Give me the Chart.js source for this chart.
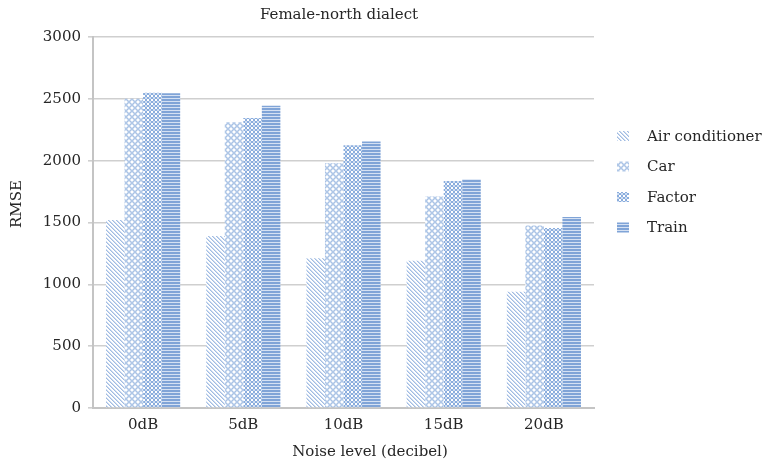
<!DOCTYPE html>
<html>
<head>
<meta charset="utf-8">
<script src="https://cdn.jsdelivr.net/npm/chart.js@4"></script>
<style>
  html, body { margin: 0; padding: 0; background: #fff; }
  #wrap { width: 764px; height: 466px; }
</style>
</head>
<body>
<div id="wrap"><canvas id="chart" width="764" height="466"></canvas></div>
<script>
// chart data
var noiseLevels = ["0dB", "5dB", "10dB", "15dB", "20dB"];
var airConditioner = [1520, 1390, 1210, 1190, 940];
var car = [2500, 2310, 1980, 1710, 1475];
var factor = [2550, 2345, 2125, 1835, 1455];
var train = [2545, 2445, 2155, 1850, 1545];
var seriesNames = ["Air conditioner", "Car", "Factor", "Train"];

var textColor = "#262626";
var serif = "'DejaVu Serif', 'Liberation Serif', serif";

function makePattern(w, h, draw) {
    var c = document.createElement("canvas");
    c.width = w;
    c.height = h;
    var g = c.getContext("2d");
    g.fillStyle = "#ffffff";
    g.fillRect(0, 0, w, h);
    draw(g);
    return document.getElementById("chart").getContext("2d").createPattern(c, "repeat");
}

// diagonal hatch
var acPattern = makePattern(4, 4, function (g) {
    g.fillStyle = "#a2bce2";
    for (var i = 0; i < 4; i++) {
        g.fillRect(i, i, 1, 1);
    }
    g.fillStyle = "#cddcf1";
    for (var j = 0; j < 4; j++) {
        g.fillRect((j + 1) % 4, j, 1, 1);
    }
});

// open ring lattice
var carPattern = makePattern(6, 6, function (g) {
    g.strokeStyle = "#a4bfe4";
    g.lineWidth = 1;
    g.beginPath();
    g.arc(3, 3, 2.3, 0, Math.PI * 2);
    g.stroke();
    [[0, 0], [6, 0], [0, 6], [6, 6]].forEach(function (p) {
        g.beginPath();
        g.arc(p[0], p[1], 2.3, 0, Math.PI * 2);
        g.stroke();
    });
});

// dense small rings
var factorPattern = makePattern(4, 4, function (g) {
    g.fillStyle = "#8aaddd";
    g.fillRect(1, 0, 2, 1);
    g.fillRect(0, 1, 1, 2);
    g.fillRect(3, 1, 1, 2);
    g.fillRect(1, 3, 2, 1);
    g.fillStyle = "#d0def2";
    g.fillRect(1, 1, 2, 2);
});

// horizontal stripes
var trainPattern = makePattern(1, 3, function (g) {
    g.fillStyle = "#80a4d7";
    g.fillRect(0, 0, 1, 2);
    g.fillStyle = "#d5e1f3";
    g.fillRect(0, 2, 1, 1);
});

var patterns = [acPattern, carPattern, factorPattern, trainPattern];

var labelsPlugin = {
    id: "labelsPlugin",
    afterDraw: function (chart) {
        var ctx = chart.ctx;
        ctx.save();
        ctx.fillStyle = textColor;
        ctx.textBaseline = "middle";
        ctx.textAlign = "center";
        ctx.font = "15px " + serif;
        ctx.fillText("Female-north dialect", 339, 15);
        ctx.fillText("Noise level (decibel)", 370, 452);

        ctx.save();
        ctx.translate(17, 204);
        ctx.rotate(-Math.PI / 2);
        ctx.fillText("RMSE", 0, 0);
        ctx.restore();

        // legend
        ctx.textAlign = "left";
        chart.data.datasets.forEach(function (ds, i) {
            var y = 136 + i * 30.5;
            ctx.fillStyle = ds.backgroundColor;
            ctx.fillRect(617, y - 5, 12, 10);
            ctx.fillStyle = textColor;
            ctx.fillText(ds.label, 647, y + 1);
        });
        ctx.restore();
    }
};

var ctx = document.getElementById("chart").getContext("2d");
new Chart(ctx, {
    type: "bar",
    data: {
        labels: noiseLevels,
        datasets: [
            { label: seriesNames[0], data: airConditioner, backgroundColor: patterns[0] },
            { label: seriesNames[1], data: car, backgroundColor: patterns[1] },
            { label: seriesNames[2], data: factor, backgroundColor: patterns[2] },
            { label: seriesNames[3], data: train, backgroundColor: patterns[3] }
        ]
    },
    options: {
        responsive: false,
        animation: false,
        devicePixelRatio: 1,
        layout: { padding: { top: 37, left: 0, right: 170, bottom: 0 } },
        datasets: {
            bar: { categoryPercentage: 0.74, barPercentage: 1.0, borderWidth: 0 }
        },
        plugins: {
            legend: { display: false },
            title: { display: false },
            tooltip: { enabled: false }
        },
        scales: {
            x: {
                afterFit: function (scale) { scale.height = 58; },
                grid: { display: false, drawTicks: false },
                border: { display: true, color: "#c4c4c4", width: 2 },
                ticks: { color: textColor, font: { family: serif, size: 15 }, padding: 8 }
            },
            y: {
                min: 0,
                max: 3000,
                afterFit: function (scale) { scale.width = 93; },
                grid: { color: "#cfcfcf", lineWidth: 1.6, tickLength: 5 },
                border: { display: true, color: "#c4c4c4", width: 2 },
                ticks: {
                    stepSize: 500,
                    color: textColor,
                    font: { family: serif, size: 15 },
                    padding: 7,
                    callback: function (v) { return String(v); }
                }
            }
        }
    },
    plugins: [labelsPlugin]
});
</script>
</body>
</html>
